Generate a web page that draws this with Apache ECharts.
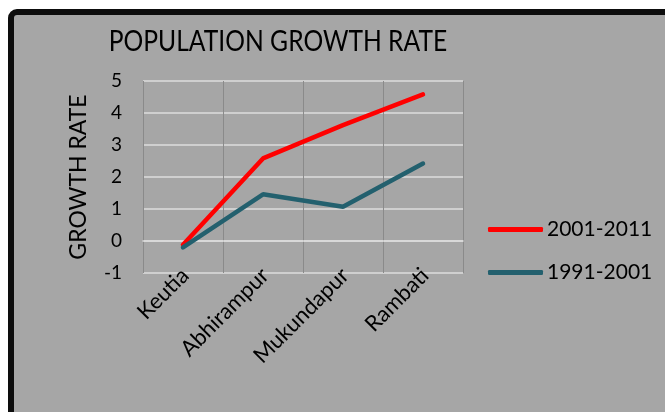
<!DOCTYPE html>
<html><head><meta charset="utf-8">
<script src="https://cdn.jsdelivr.net/npm/echarts@6/dist/echarts.min.js"></script>
<style>html,body{margin:0;padding:0;background:#fff;}#c{width:665px;height:412px;}</style>
</head><body><div id="c"></div>
<script>
const categories = ['Keutia', 'Abhirampur', 'Mukundapur', 'Rambati'];
const growth2001_2011 = [-0.12, 2.58, 3.62, 4.58];
const growth1991_2001 = [-0.2, 1.46, 1.07, 2.42];
const seriesNames = ['2001-2011', '1991-2001'];
const yTicks = { min: -1, max: 5, interval: 1 };
const titleText = 'POPULATION GROWTH RATE';
const FONT = 'Lato';
const chart = echarts.init(document.getElementById('c'));
chart.setOption({
  backgroundColor: '#ffffff',
  animation: false,
  graphic: [{
    type: 'rect', z: -10, silent: true,
    shape: { x: 11, y: 12, width: 720, height: 460, r: 6 },
    style: { fill: '#a6a6a6', stroke: '#0d0d0d', lineWidth: 6 }
  }, {
    type: 'text', silent: true, x: 278, y: 42, scaleX: 0.85,
    style: { text: titleText, fontFamily: FONT, fontSize: 29,
      fill: '#000', align: 'center', verticalAlign: 'middle' }
  }],
  grid: { left: 143, right: 202, top: 81, bottom: 139 },
  legend: {
    orient: 'vertical', left: 483, top: 214, itemWidth: 55, itemHeight: 5, itemGap: 22,
    icon: 'roundRect', data: seriesNames,
    textStyle: { fontFamily: FONT, fontSize: 21, color: '#000', padding: [0,0,0,-1] }
  },
  xAxis: {
    type: 'category', data: categories, boundaryGap: true,
    axisLine: { show: true, lineStyle: { color: '#dcdcdc', width: 1.5 } },
    axisTick: { show: false },
    splitLine: { show: true, lineStyle: { color: '#8a8a8a', width: 1 } },
    axisLabel: { rotate: 45, margin: 1, padding: [0, -3, 0, 0], fontFamily: FONT, fontSize: 22, color: '#000', interval: 0 }
  },
  yAxis: {
    type: 'value', min: yTicks.min, max: yTicks.max, interval: yTicks.interval,
    name: 'GROWTH RATE', nameLocation: 'middle', nameGap: 53, nameRotate: 90,
    nameTextStyle: { fontFamily: FONT, fontSize: 23, color: '#000' },
    axisLine: { show: false }, axisTick: { show: false },
    splitLine: { show: true, lineStyle: { color: '#dcdcdc', width: 1.5 } },
    axisLabel: { margin: 21, fontFamily: FONT, fontSize: 19, color: '#000' }
  },
  series: [
    { name: seriesNames[0], type: 'line', data: growth2001_2011, symbol: 'none',
      lineStyle: { color: '#ff0000', width: 4.5, cap: 'round' }, itemStyle: { color: '#ff0000' } },
    { name: seriesNames[1], type: 'line', data: growth1991_2001, symbol: 'none',
      lineStyle: { color: '#23606e', width: 4.5, cap: 'round' }, itemStyle: { color: '#23606e' } }
  ]
});
</script></body></html>
